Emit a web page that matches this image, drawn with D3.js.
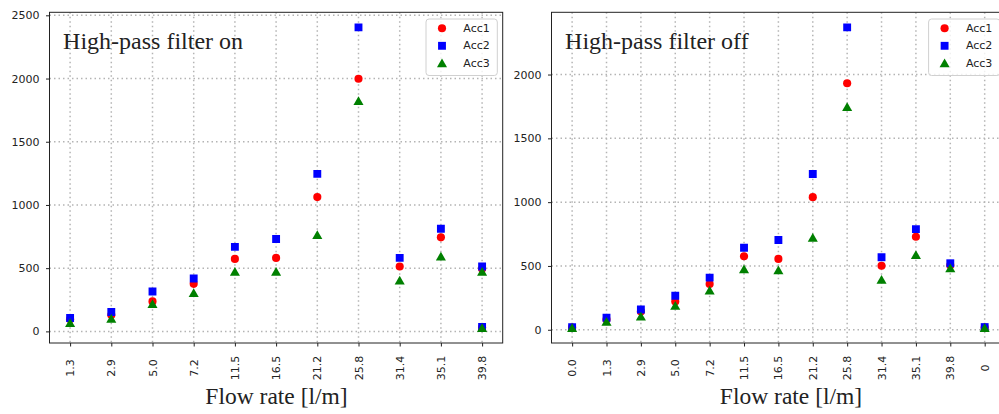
<!DOCTYPE html>
<html>
<head>
<meta charset="utf-8">
<script src="https://cdn.jsdelivr.net/npm/d3@7"></script>
<style>
  html, body { margin: 0; padding: 0; background: #fff; }
  svg { display: block; }
  .tick-label { font-family: "DejaVu Sans", sans-serif; font-size: 11px; fill: #222; }
  .serif { font-family: "Liberation Serif", "Times New Roman", serif; fill: #222; }
</style>
</head>
<body>
<svg id="chart" width="999" height="414"></svg>
<script>
// Flow-rate categories and accelerometer readings, filter on
const onLabels = ["1.3", "2.9", "5.0", "7.2", "11.5", "16.5", "21.2", "25.8", "31.4", "35.1", "39.8"];
const onPos    = [0, 1, 2, 3, 4, 5, 6, 7, 8, 9, 10, 10];
const onAcc1   = [95, 130, 237, 376, 573, 581, 1062, 1998, 513, 744, 495, 30];
const onAcc2   = [106, 153, 315, 418, 668, 731, 1246, 2405, 581, 812, 513, 35];
const onAcc3   = [66, 100, 216, 303, 471, 471, 762, 1822, 402, 592, 471, 27];

// Flow-rate categories and accelerometer readings, filter off
const offLabels = ["0.0", "1.3", "2.9", "5.0", "7.2", "11.5", "16.5", "21.2", "25.8", "31.4", "35.1", "39.8", "0"];
const offPos    = [0, 1, 2, 3, 4, 5, 6, 7, 8, 9, 10, 11, 12];
const offAcc1   = [18, 80, 143, 221, 359, 576, 555, 1039, 1932, 502, 729, 505, 18];
const offAcc2   = [21, 94, 159, 266, 409, 643, 703, 1221, 2370, 568, 789, 521, 21];
const offAcc3   = [14, 62, 104, 188, 307, 474, 466, 721, 1745, 391, 586, 482, 14];

const seriesNames  = ["Acc1", "Acc2", "Acc3"];
const seriesColors = ["#ff0000", "#0000ff", "#008000"];
const seriesShapes = [d3.symbolCircle, d3.symbolSquare, d3.symbolTriangle];
const yTickValues  = [0, 500, 1000, 1500, 2000, 2500];

const svg = d3.select("#chart");

// symbol areas roughly equivalent to 8px markers
const symbolSize = [52, 62, 44];

function panel(cfg) {
  const { left, right, top, bottom, labels, pos, series, title, xlabelX } = cfg;
  const g = svg.append("g");
  const clipId = "clip" + Math.round(left);

  // matplotlib-style 5% margins around the data
  const xMax = labels.length - 1;
  const xs = d3.scaleLinear().domain([-0.05 * xMax, xMax * 1.05]).range([left, right]);
  const all = series.flat();
  const lo = d3.min(all), hi = d3.max(all), pad = (hi - lo) * 0.05;
  const ys = d3.scaleLinear().domain([lo - pad, hi + pad]).range([bottom, top]);
  const yTicks = yTickValues.filter(v => v >= ys.domain()[0] && v <= ys.domain()[1]);

  svg.append("clipPath").attr("id", clipId)
    .append("rect").attr("x", left).attr("y", top).attr("width", right - left).attr("height", bottom - top);

  const plot = g.append("g").attr("clip-path", `url(#${clipId})`);

  // dotted grid
  const gridColor = "#b4b4b4", gridDash = "1.5,3";
  plot.selectAll(".vgrid").data(labels).join("line")
    .attr("x1", (d, i) => xs(i)).attr("x2", (d, i) => xs(i))
    .attr("y1", top).attr("y2", bottom)
    .attr("stroke", gridColor).attr("stroke-width", 1.5).attr("stroke-dasharray", gridDash);
  plot.selectAll(".hgrid").data(yTicks).join("line")
    .attr("x1", left).attr("x2", right)
    .attr("y1", d => ys(d)).attr("y2", d => ys(d))
    .attr("stroke", gridColor).attr("stroke-width", 1.5).attr("stroke-dasharray", gridDash);

  // markers, series drawn in legend order
  series.forEach((vals, s) => {
    plot.append("g").selectAll("path").data(vals).join("path")
      .attr("transform", (d, i) => `translate(${xs(pos[i])},${ys(d) + (s === 2 ? 1 : 0)})`)
      .attr("d", d3.symbol().type(seriesShapes[s]).size(symbolSize[s]))
      .attr("fill", seriesColors[s]);
  });

  // axes
  const xAxis = d3.axisBottom(xs).tickValues(d3.range(labels.length))
    .tickFormat(i => labels[i]).tickSize(3.5).tickPadding(3);
  const gx = g.append("g").attr("transform", `translate(0,${bottom})`).call(xAxis);
  gx.select(".domain").remove();
  gx.selectAll(".tick line").attr("stroke", "#222");
  gx.selectAll(".tick text").attr("class", "tick-label")
    .attr("y", null).attr("dy", null)
    .attr("text-anchor", "middle").attr("dominant-baseline", "central")
    .attr("transform", "translate(0,25) rotate(-90)");

  const yAxis = d3.axisLeft(ys).tickValues(yTicks).tickFormat(d3.format("d"))
    .tickSize(3.5).tickPadding(6.5);
  const gy = g.append("g").attr("transform", `translate(${left},0)`).call(yAxis);
  gy.select(".domain").remove();
  gy.selectAll(".tick line").attr("stroke", "#222");
  gy.selectAll(".tick text").attr("class", "tick-label").attr("dy", null)
    .attr("dominant-baseline", "central");

  // frame
  g.append("rect").attr("x", left).attr("y", top)
    .attr("width", right - left).attr("height", bottom - top)
    .attr("fill", "none").attr("stroke", "#222").attr("stroke-width", 1);

  // in-plot title
  g.append("text").attr("class", "serif")
    .attr("x", left + 0.03 * (right - left)).attr("y", top + 36.2)
    .attr("font-size", 24).text(title);

  // x axis title
  g.append("text").attr("class", "serif")
    .attr("x", xlabelX).attr("y", 403.5).attr("text-anchor", "middle")
    .attr("font-size", 23.5).text("Flow rate [l/m]");

  // legend
  const lw = 71.3, lh = 56.5;
  const lx = right - 5.4 - lw, ly = top + 6.7;
  const lg = g.append("g").attr("transform", `translate(${lx},${ly})`);
  lg.append("rect").attr("width", lw).attr("height", lh).attr("rx", 3)
    .attr("fill", "#fff").attr("fill-opacity", 0.8).attr("stroke", "#d0d0d0");
  seriesNames.forEach((name, s) => {
    const ry = 9.3 + s * 17.5;
    lg.append("path").attr("transform", `translate(16,${ry + (s === 2 ? 1 : 0)})`)
      .attr("d", d3.symbol().type(seriesShapes[s]).size(symbolSize[s]))
      .attr("fill", seriesColors[s]);
    lg.append("text").attr("class", "tick-label").attr("x", 37.3).attr("y", ry)
      .attr("dominant-baseline", "central").text(name);
  });
}

panel({
  left: 49.5, right: 502.7, top: 12.3, bottom: 343,
  labels: onLabels, pos: onPos, series: [onAcc1, onAcc2, onAcc3],
  title: "High-pass filter on", xlabelX: 276.5
});

panel({
  left: 551.5, right: 1005.3, top: 12.3, bottom: 343,
  labels: offLabels, pos: offPos, series: [offAcc1, offAcc2, offAcc3],
  title: "High-pass filter off", xlabelX: 791
});
</script>
</body>
</html>
